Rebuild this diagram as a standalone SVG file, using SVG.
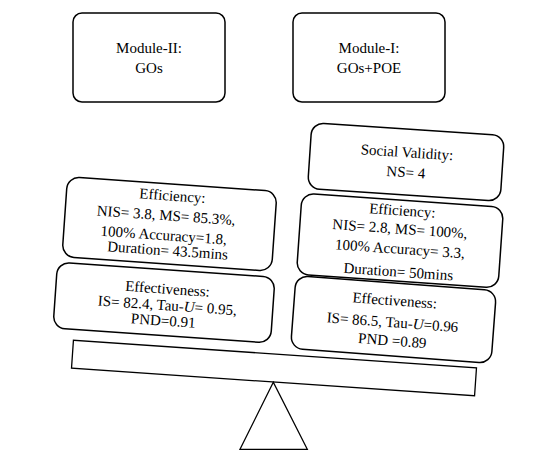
<svg xmlns="http://www.w3.org/2000/svg" width="556" height="452" viewBox="0 0 556 452">
<style>
  .box { fill: #ffffff; stroke: #000000; stroke-width: 1.5; }
  .shape { fill: #ffffff; stroke: #000000; stroke-width: 1.3; }
  text { font-family: "Liberation Serif", "Times New Roman", serif; font-size: 15px; fill: #000000; text-anchor: middle; }
</style>
<rect width="556" height="452" fill="#ffffff"/>
<g id="module-2">
  <rect class="box" x="73" y="13" width="152" height="89" rx="9"/>
  <text x="149" y="52.5">Module-II:</text>
  <text x="149" y="73">GOs</text>
</g>
<g id="module-1">
  <rect class="box" x="293" y="13" width="152" height="89" rx="9"/>
  <text x="369" y="52.5">Module-I:</text>
  <text x="369" y="73">GOs+POE</text>
</g>
<g id="scale">
  <rect class="shape" x="-202" y="-14" width="404" height="28" transform="translate(274,368) rotate(3.93)"/>
  <polygon class="shape" points="273.3,382.3 240,449.3 307.3,449.3"/>
</g>
<g id="left-efficiency" transform="translate(169.5,224) rotate(4)">
  <rect class="box" x="-105" y="-40" width="210" height="80" rx="12"/>
  <text x="1" y="-23.5">Efficiency:</text>
  <text x="-4" y="-3.5">NIS= 3.8, MS= 85.3%,</text>
  <text x="-5" y="16.5">100% Accuracy=1.8,</text>
  <text x="0" y="31.5">Duration= 43.5mins</text>
</g>
<g id="left-effectiveness" transform="translate(164,302.6) rotate(4)">
  <rect class="box" x="-109" y="-33" width="218" height="66" rx="12"/>
  <text x="2.5" y="-9">Effectiveness:</text>
  <text x="3.5" y="7.5">IS= 82.4, Tau-<tspan font-style="italic">U</tspan>= 0.95,</text>
  <text x="0.5" y="23">PND=0.91</text>
</g>
<g id="right-social-validity" transform="translate(406,162) rotate(3.8)">
  <rect class="box" x="-96.5" y="-33" width="193" height="66" rx="12"/>
  <text x="0.3" y="-4.8">Social Validity:</text>
  <text x="0.5" y="15.2">NS= 4</text>
</g>
<g id="right-efficiency" transform="translate(400,240.7) rotate(4)">
  <rect class="box" x="-101" y="-40.5" width="202" height="81" rx="12"/>
  <text x="0.2" y="-25.3">Efficiency:</text>
  <text x="-0.9" y="-6.9">NIS= 2.8, MS= 100%,</text>
  <text x="0.5" y="13.1">100% Accuracy= 3.3,</text>
  <text x="0.5" y="36">Duration= 50mins</text>
</g>
<g id="right-effectiveness" transform="translate(393.5,319.5) rotate(4.3)">
  <rect class="box" x="-100.5" y="-36.5" width="201" height="73" rx="12"/>
  <text x="-0.2" y="-14.1">Effectiveness:</text>
  <text x="-0.8" y="7.8">IS= 86.5, Tau-<tspan font-style="italic">U</tspan>=0.96</text>
  <text x="0.4" y="26.1">PND =0.89</text>
</g>
<g id="connectors"></g>
</svg>
